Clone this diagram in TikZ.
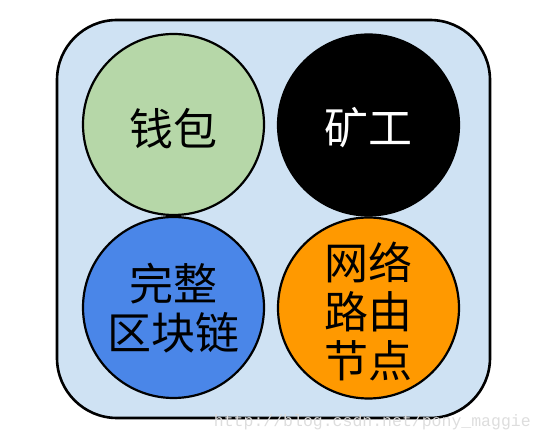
\documentclass[tikz,border=0pt]{standalone}
\usepackage{fontspec}
\newfontfamily\cjk{Noto Sans CJK SC}
\newfontfamily\wmfont{Liberation Mono}
\definecolor{panel}{HTML}{CFE2F3}
\definecolor{wallet}{HTML}{B6D7A8}
\definecolor{chain}{HTML}{4A86E8}
\definecolor{router}{HTML}{FF9900}
\definecolor{wm}{HTML}{DDDDDD}
\begin{document}
\begin{tikzpicture}[x=1pt,y=-1pt,
  ball/.style={circle,draw=black,line width=2.2pt,minimum size=181pt,inner sep=0pt},
  balltext/.style={align=center,inner sep=0pt,font=\cjk\fontsize{44}{49}\selectfont},
]
\useasboundingbox (0,0) rectangle (542,443);
\node[draw=black,line width=2.6pt,fill=panel,rounded corners=60pt,minimum width=433pt,minimum height=398pt,inner sep=0pt] (panel) at (273.5,219) {};
\node[ball,fill=wallet] (w) at (173.5,124.5) {};
\node[ball,fill=black] (m) at (368.5,125) {};
\node[ball,fill=chain] (c) at (173.5,307.5) {};
\node[ball,fill=router] (r) at (368.5,308) {};
\node[balltext] (wt) at ([yshift=-4pt]w.center) {钱包};
\node[balltext,text=white] (mt) at ([yshift=-3pt]m.center) {矿工};
\node[balltext] (ct) at ([yshift=-1pt]c.center) {完整\\区块链};
\node[balltext] (rt) at ([yshift=-3pt]r.center) {网络\\路由\\节点};
\node[anchor=base east,text=wm,font=\wmfont\fontsize{16.5}{18}\selectfont,inner sep=0pt] (wmk) at (531,427) {http://blog.csdn.net/pony\_maggie};
\end{tikzpicture}
\end{document}
